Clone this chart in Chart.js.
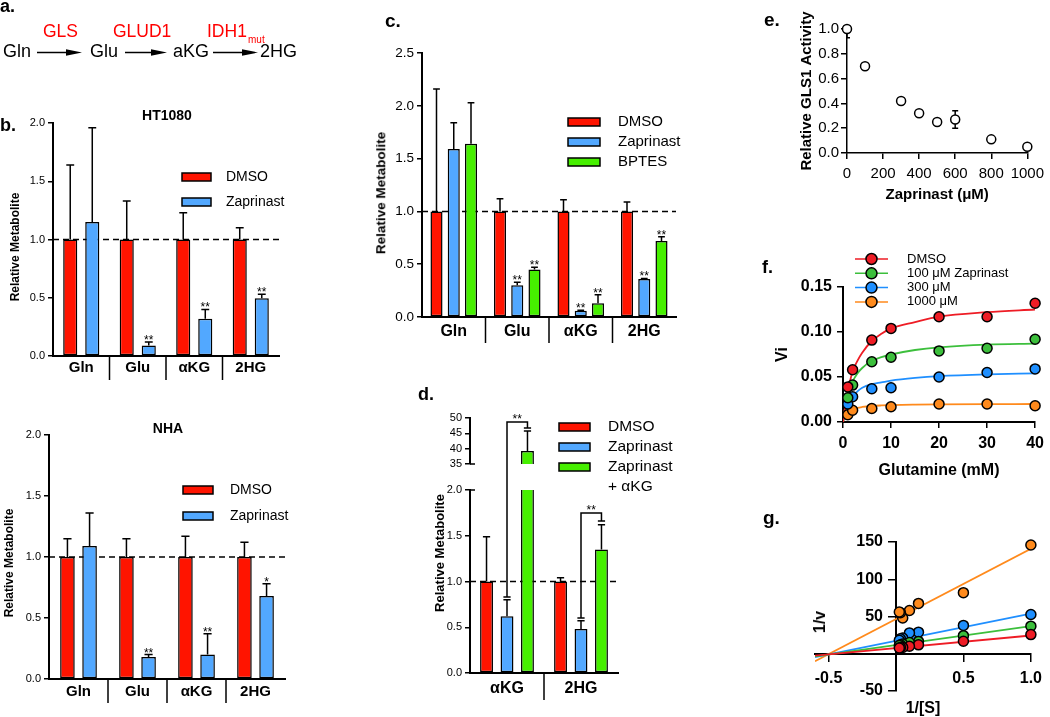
<!DOCTYPE html>
<html>
<head>
<meta charset="utf-8">
<script src="https://cdn.jsdelivr.net/npm/chart.js@4.4.1/dist/chart.umd.min.js"></script>
<style>
  body { margin: 0; background: #fff; }
  #fig { position: relative; width: 1050px; height: 717px; overflow: hidden; font-family: "Liberation Sans", Arial, Helvetica, sans-serif; }
  #fig canvas { position: absolute; left: 0; top: 0; }
  .t { position: absolute; white-space: nowrap; line-height: 1; color: #000; }
</style>
</head>
<body>
<div id="fig">
  <svg width="300" height="70" style="position:absolute;left:0;top:0">
    <g stroke="#000" stroke-width="1.5">
      <line x1="37" y1="52.5" x2="68" y2="52.5"/>
      <line x1="125" y1="52.5" x2="153" y2="52.5"/>
      <line x1="213" y1="52.5" x2="244" y2="52.5"/>
    </g>
    <polygon points="66,49.2 82,52.5 66,55.8"/>
    <polygon points="151,49.2 167,52.5 151,55.8"/>
    <polygon points="242,49.2 258,52.5 242,55.8"/>
  </svg>
</div>
<script>
const FONT = '"Liberation Sans", Arial, Helvetica, sans-serif';

// ---- data ----
const metabolites = ['Gln', 'Glu', 'αKG', '2HG'];

// b. HT1080
const ht1080Dmso = [1, 1, 1, 1];
const ht1080DmsoErr = [1.64, 1.33, 1.23, 1.10];
const ht1080Zap = [1.15, 0.09, 0.32, 0.495];
const ht1080ZapErr = [1.96, 0.12, 0.40, 0.53];
const ht1080ZapStars = ['', '**', '**', '**'];

// b. NHA
const nhaDmso = [1, 1, 1, 1];
const nhaDmsoErr = [1.15, 1.15, 1.17, 1.12];
const nhaZap = [1.09, 0.18, 0.20, 0.68];
const nhaZapErr = [1.36, 0.20, 0.37, 0.78];
const nhaZapStars = ['', '**', '**', '*'];

// c.
const cDmso = [1, 1, 1, 1];
const cDmsoErr = [2.16, 1.12, 1.11, 1.09];
const cZap = [1.59, 0.30, 0.06, 0.36];
const cZapErr = [1.84, 0.33, 0.065, 0.365];
const cBptes = [1.64, 0.45, 0.13, 0.72];
const cBptesErr = [2.03, 0.47, 0.21, 0.76];
const cStars = ['', '**', '**', '**'];

// d. (broken axis)
const dLabels = ['αKG', '2HG'];
const dDmso = [1, 1];
const dDmsoErr = [1.49, 1.04];
const dZap = [0.62, 0.48];
const dZapErr = [0.80, 0.57];
const dZapKg = [39.2, 1.35];
const dZapKgErr = [45.8, 1.62];
const dBracketFrom = [0.83, 0.60];
const dBracketTo = [46.7, 1.66];
const dBracketTop = [48.7, 1.75];
const dBracketStars = ['**', '**'];
const dLowMax = 2;
const dHighMin = 35;
const dHighMax = 50;

// e.
const eDose = [0, 100, 300, 400, 500, 600, 800, 1000];
const eActivity = [1.0, 0.70, 0.42, 0.32, 0.25, 0.27, 0.11, 0.05];
const eSem = [0.07, 0, 0, 0, 0, 0.07, 0, 0];

// f. Michaelis-Menten
const fGln = [1, 2, 6, 10, 20, 30, 40];
const fDmso = [0.039, 0.058, 0.091, 0.104, 0.117, 0.117, 0.132];
const fZap100 = [0.027, 0.041, 0.067, 0.072, 0.079, 0.082, 0.092];
const fZap300 = [0.020, 0.028, 0.037, 0.038, 0.050, 0.055, 0.059];
const fZap1000 = [0.008, 0.013, 0.015, 0.017, 0.020, 0.020, 0.018];
const fCurveX = [0, 0.5, 1, 2, 3, 4, 6, 8, 10, 15, 20, 30, 40];
const fCurveDmso = [0, 0.019, 0.034, 0.056, 0.068, 0.077, 0.090, 0.098, 0.104, 0.111, 0.117, 0.122, 0.125];
const fCurve100 = [0, 0.017, 0.030, 0.045, 0.054, 0.060, 0.068, 0.072, 0.075, 0.080, 0.083, 0.086, 0.087];
const fCurve300 = [0, 0.011, 0.019, 0.028, 0.034, 0.038, 0.042, 0.044, 0.046, 0.049, 0.051, 0.053, 0.054];
const fCurve1000 = [0, 0.0073, 0.0108, 0.0141, 0.0158, 0.0167, 0.0178, 0.0184, 0.0188, 0.0193, 0.0196, 0.0199, 0.020];
const fLegend = ['DMSO', '100 μM Zaprinast', '300 μM', '1000 μM'];

// g. Lineweaver-Burk
const gInvS = [1.0, 0.5, 0.167, 0.1, 0.05, 0.033, 0.025];
const gDmso = [25.7, 16.7, 12, 10, 8.5, 8.5, 7.6];
const gZap100 = [37, 24.3, 16.6, 15, 13, 12, 11];
const gZap300 = [52.7, 38, 29, 28, 21, 20, 18];
const gZap1000 = [146, 82, 67.6, 58, 48, 55, 56];
const gLineX = [-0.6, 1.0];
const gLineDmso = [-2.5, 24.5];
const gLine100 = [-3.5, 37];
const gLine300 = [-4.5, 54];
const gLine1000 = [-10, 141];

// ---- colours ----
const barRed = '#ff1400', barBlue = '#52a8ff', barGreen = '#46ef00';
const kin = ['#ee1c25', '#3cbf3c', '#1f8fff', '#ff8a1c'];

Chart.defaults.font.family = FONT;
Chart.defaults.color = '#000';
Chart.defaults.animation = false;
Chart.defaults.responsive = false;
Chart.defaults.devicePixelRatio = 1;
Chart.defaults.plugins.legend.display = false;
Chart.defaults.plugins.tooltip.enabled = false;

const fig = document.getElementById('fig');

function sheet() {
  const c = document.createElement('canvas');
  c.width = 1050; c.height = 717;
  fig.appendChild(c);
  return c;
}

// layout padding that puts the plot area at l,t,r,b on the page
function frame(l, t, r, b, yW, xH) {
  return { left: l - yW, top: t, right: 1050 - r, bottom: 717 - b - xH };
}

function label(text, x, y, size, o = {}) {
  const d = document.createElement('div');
  d.className = 't';
  d.textContent = text;
  d.style.left = x + 'px';
  d.style.top = y + 'px';
  d.style.fontSize = size + 'px';
  if (o.bold) d.style.fontWeight = 'bold';
  if (o.color) d.style.color = o.color;
  const ax = o.left ? '0' : '-50%';
  d.style.transform = 'translate(' + ax + ',-50%)' + (o.rot ? ' rotate(-90deg)' : '');
  fig.appendChild(d);
}

// ---- plugins ----
const refLine = {
  id: 'refLine',
  beforeDatasetsDraw(chart) {
    const { ctx, chartArea, scales: { y } } = chart;
    if (1 < y.min || 1 > y.max) return;
    const py = y.getPixelForValue(1);
    ctx.save();
    ctx.setLineDash([6, 4]);
    ctx.lineWidth = 1.5;
    ctx.strokeStyle = '#000';
    ctx.beginPath();
    ctx.moveTo(chartArea.left, py);
    ctx.lineTo(chartArea.right, py);
    ctx.stroke();
    ctx.restore();
  }
};

const errorBars = {
  id: 'errorBars',
  afterDatasetsDraw(chart) {
    const { ctx, scales: { y } } = chart;
    ctx.save();
    ctx.strokeStyle = '#000';
    ctx.lineWidth = 1.5;
    ctx.fillStyle = '#000';
    ctx.font = '12px ' + FONT;
    ctx.textAlign = 'center';
    chart.data.datasets.forEach((ds, i) => {
      chart.getDatasetMeta(i).data.forEach((bar, j) => {
        const v = ds.data[j], e = ds.errUp ? ds.errUp[j] : null;
        if (v == null || e == null || v > y.max || e > y.max || e < y.min) return;
        const top = y.getPixelForValue(e), cap = bar.width * 0.28;
        ctx.beginPath();
        ctx.moveTo(bar.x, bar.y);
        ctx.lineTo(bar.x, top);
        ctx.moveTo(bar.x - cap, top);
        ctx.lineTo(bar.x + cap, top);
        ctx.stroke();
        if (ds.stars && ds.stars[j]) ctx.fillText(ds.stars[j], bar.x, top + 2);
      });
    });
    ctx.restore();
  }
};

const dividers = {
  id: 'dividers',
  afterDraw(chart, args, o) {
    const { ctx, chartArea, scales: { x } } = chart;
    if (!x.options.display || !o.length) return;
    ctx.save();
    ctx.strokeStyle = '#000';
    ctx.lineWidth = 1.5;
    for (let i = 1; i < x.ticks.length; i++) {
      const px = (x.getPixelForTick(i - 1) + x.getPixelForTick(i)) / 2;
      ctx.beginPath();
      ctx.moveTo(px, chartArea.bottom);
      ctx.lineTo(px, chartArea.bottom + o.length);
      ctx.stroke();
    }
    ctx.restore();
  }
};

const boxLegend = {
  id: 'boxLegend',
  afterDraw(chart, args, o) {
    if (o.x == null) return;
    const { ctx } = chart;
    ctx.save();
    ctx.font = o.size + 'px ' + FONT;
    ctx.textBaseline = 'middle';
    chart.data.datasets.forEach((ds, i) => {
      const cy = o.y + i * o.dy;
      ctx.fillStyle = ds.backgroundColor;
      ctx.fillRect(o.x, cy - o.h / 2, o.w, o.h);
      ctx.strokeStyle = '#000';
      ctx.lineWidth = 1.5;
      ctx.strokeRect(o.x, cy - o.h / 2, o.w, o.h);
      ctx.fillStyle = '#000';
      ds.label.split('\n').forEach((line, k) => ctx.fillText(line, o.tx, cy + k * (o.lineH || 0)));
    });
    ctx.restore();
  }
};

const semBars = {
  id: 'semBars',
  beforeDatasetsDraw(chart) {
    const { ctx, chartArea: a, scales: { y } } = chart;
    ctx.save();
    ctx.beginPath();
    ctx.rect(a.left, a.top, a.right - a.left, a.bottom - a.top);
    ctx.clip();
    ctx.strokeStyle = '#000';
    ctx.lineWidth = 1.5;
    chart.data.datasets.forEach((ds, i) => {
      if (!ds.sem) return;
      chart.getDatasetMeta(i).data.forEach((pt, j) => {
        const s = ds.sem[j];
        if (!s) return;
        const v = ds.data[j].y;
        const t = y.getPixelForValue(v + s), b = y.getPixelForValue(v - s);
        ctx.beginPath();
        ctx.moveTo(pt.x, t); ctx.lineTo(pt.x, b);
        ctx.moveTo(pt.x - 3, t); ctx.lineTo(pt.x + 3, t);
        ctx.moveTo(pt.x - 3, b); ctx.lineTo(pt.x + 3, b);
        ctx.stroke();
      });
    });
    ctx.restore();
  }
};

const markerLegend = {
  id: 'markerLegend',
  afterDraw(chart, args, o) {
    if (o.x0 == null) return;
    const { ctx } = chart;
    const marks = chart.data.datasets.filter(d => d.label);
    ctx.save();
    ctx.font = o.size + 'px ' + FONT;
    ctx.textBaseline = 'middle';
    ctx.lineWidth = 1.5;
    marks.forEach((ds, i) => {
      const cy = o.y + i * o.dy;
      ctx.strokeStyle = ds.pointBackgroundColor;
      ctx.beginPath();
      ctx.moveTo(o.x0, cy);
      ctx.lineTo(o.x1, cy);
      ctx.stroke();
      ctx.beginPath();
      ctx.arc((o.x0 + o.x1) / 2, cy, o.r, 0, Math.PI * 2);
      ctx.fillStyle = ds.pointBackgroundColor;
      ctx.fill();
      ctx.strokeStyle = '#000';
      ctx.stroke();
      ctx.fillStyle = '#000';
      ctx.fillText(ds.label, o.tx, cy);
    });
    ctx.restore();
  }
};

// y tick labels for an axis that crosses at x = 0 (Chart.js puts them flush on the line)
const crossLabels = {
  id: 'crossLabels',
  afterDraw(chart, args, o) {
    const { ctx, scales: { y } } = chart;
    const ax = chart.scales.x.getPixelForValue(0);
    ctx.save();
    ctx.font = 'bold 16px ' + FONT;
    ctx.fillStyle = '#000';
    ctx.textAlign = 'right';
    ctx.textBaseline = 'middle';
    y.ticks.forEach(t => {
      if (Math.abs(t.value) < 1e-9) return;
      ctx.fillText(String(t.value), ax - o.gap, y.getPixelForValue(t.value));
    });
    ctx.restore();
  }
};

// ---- bar panels ----
function barPanel(o) {
  const showX = o.showX !== false;
  return new Chart(sheet(), {
    type: 'bar',
    data: {
      labels: o.labels,
      datasets: o.series.map(s => ({
        label: s.label,
        data: s.data,
        errUp: s.err,
        stars: s.stars,
        backgroundColor: s.color,
        borderColor: '#000',
        borderWidth: 1.5,
        borderSkipped: false,
        categoryPercentage: o.catPct,
        barPercentage: o.barPct
      }))
    },
    options: {
      layout: { padding: frame(o.l, o.t, o.r, o.b, 40, showX ? 30 : 0) },
      plugins: {
        boxLegend: o.legend || {},
        dividers: { length: o.divLen || 0 }
      },
      scales: {
        x: {
          display: showX,
          grid: { display: false, drawTicks: false },
          border: { color: '#000', width: 2 },
          ticks: { color: '#000', padding: o.catPad, autoSkip: false, maxRotation: 0,
                   font: { size: o.catSize, weight: 'bold' } },
          afterFit: s => { s.height = showX ? 30 : 0; }
        },
        y: {
          min: o.yMin, max: o.yMax,
          grid: { drawOnChartArea: false, tickLength: 5, color: '#000', lineWidth: 1.5 },
          border: { color: '#000', width: 2 },
          ticks: { stepSize: o.step, padding: 3, color: '#000', autoSkip: false, font: { size: o.tickSize },
                   callback: o.fmt || (v => v.toFixed(1)) },
          afterFit: s => { s.width = 40; }
        }
      }
    },
    plugins: [refLine, errorBars, dividers, boxLegend].concat(o.extra || [])
  });
}

// b. HT1080
barPanel({
  l: 53, t: 123, r: 279, b: 356, labels: metabolites, yMin: 0, yMax: 2, step: 0.5,
  tickSize: 11, catSize: 15, catPad: 3, divLen: 24, catPct: 0.78, barPct: 0.64,
  legend: { x: 182, y: 177, dy: 25, w: 29, h: 8, tx: 226, size: 14 },
  series: [
    { label: 'DMSO', data: ht1080Dmso, err: ht1080DmsoErr, color: barRed },
    { label: 'Zaprinast', data: ht1080Zap, err: ht1080ZapErr, stars: ht1080ZapStars, color: barBlue }
  ]
});

// b. NHA
barPanel({
  l: 49, t: 435, r: 285, b: 679, labels: metabolites, yMin: 0, yMax: 2, step: 0.5,
  tickSize: 11, catSize: 15, catPad: 4, divLen: 24, catPct: 0.75, barPct: 0.66,
  legend: { x: 183, y: 490, dy: 26, w: 30, h: 8, tx: 230, size: 14 },
  series: [
    { label: 'DMSO', data: nhaDmso, err: nhaDmsoErr, color: barRed },
    { label: 'Zaprinast', data: nhaZap, err: nhaZapErr, stars: nhaZapStars, color: barBlue }
  ]
});

// c.
barPanel({
  l: 422, t: 53, r: 676, b: 317, labels: metabolites, yMin: 0, yMax: 2.5, step: 0.5,
  tickSize: 13.5, catSize: 16, catPad: 5, divLen: 26, catPct: 0.815, barPct: 0.7,
  legend: { x: 568, y: 122, dy: 20, w: 32, h: 8, tx: 618, size: 15 },
  series: [
    { label: 'DMSO', data: cDmso, err: cDmsoErr, color: barRed },
    { label: 'Zaprinast', data: cZap, err: cZapErr, stars: cStars, color: barBlue },
    { label: 'BPTES', data: cBptes, err: cBptesErr, stars: cStars, color: barGreen }
  ]
});

// d. upper segment of the broken axis
const keepHigh = arr => arr.map(v => (v >= dHighMin ? v : null));
const dHigh = barPanel({
  l: 470, t: 418, r: 618, b: 464, labels: dLabels, yMin: dHighMin, yMax: dHighMax, step: 5,
  tickSize: 11, catSize: 16, catPct: 0.83, barPct: 0.63, showX: false, fmt: v => String(v),
  series: [
    { label: 'DMSO', data: keepHigh(dDmso), err: dDmsoErr, color: barRed },
    { label: 'Zaprinast', data: keepHigh(dZap), err: dZapErr, color: barBlue },
    { label: 'Zaprinast\n+ αKG', data: keepHigh(dZapKg), err: dZapKgErr, color: barGreen }
  ]
});

const dBrackets = {
  id: 'dBrackets',
  afterDraw(chart) {
    const { ctx, chartArea, scales: { y } } = chart;
    const hy = dHigh.scales.y;
    const py = v => (v > y.max ? hy.getPixelForValue(v) : y.getPixelForValue(v));
    const zap = chart.getDatasetMeta(1).data, kg = chart.getDatasetMeta(2).data;
    ctx.save();
    ctx.strokeStyle = '#000';
    ctx.lineWidth = 1.5;
    ctx.fillStyle = '#000';
    ctx.font = '12px ' + FONT;
    ctx.textAlign = 'center';
    dLabels.forEach((lab, j) => {
      const x1 = zap[j].x, x2 = kg[j].x, cap = zap[j].width * 0.28;
      const y1 = py(dBracketFrom[j]), y2 = py(dBracketTo[j]), yt = py(dBracketTop[j]);
      ctx.beginPath();
      ctx.moveTo(x1 - cap, y1); ctx.lineTo(x1 + cap, y1);
      ctx.moveTo(x1, y1); ctx.lineTo(x1, yt); ctx.lineTo(x2, yt); ctx.lineTo(x2, y2);
      ctx.moveTo(x2 - cap, y2); ctx.lineTo(x2 + cap, y2);
      ctx.stroke();
      ctx.fillText(dBracketStars[j], (x1 + x2) / 2, yt + 1);
    });
    // break marks on both axis segments
    ctx.beginPath();
    ctx.moveTo(chartArea.left, chartArea.top); ctx.lineTo(chartArea.left + 5, chartArea.top);
    ctx.moveTo(chartArea.left, hy.bottom); ctx.lineTo(chartArea.left + 5, hy.bottom);
    ctx.stroke();
    ctx.restore();
  }
};

// d. lower segment
barPanel({
  l: 470, t: 490, r: 618, b: 673, labels: dLabels, yMin: 0, yMax: dLowMax, step: 0.5,
  tickSize: 11, catSize: 16, catPad: 6, divLen: 27, catPct: 0.83, barPct: 0.63,
  legend: { x: 559, y: 427, dy: 20, w: 31, h: 8, tx: 608, size: 15.5, lineH: 20 },
  extra: [dBrackets],
  series: [
    { label: 'DMSO', data: dDmso, err: dDmsoErr, color: barRed },
    { label: 'Zaprinast', data: dZap, err: dZapErr, color: barBlue },
    { label: 'Zaprinast\n+ αKG', data: dZapKg, err: dZapKgErr, color: barGreen }
  ]
});

// ---- e. ----
const axisGrid = len => ({ drawOnChartArea: false, tickLength: len, color: '#000', lineWidth: 1.5 });
new Chart(sheet(), {
  type: 'scatter',
  data: {
    datasets: [{
      data: eDose.map((x, i) => ({ x, y: eActivity[i] })),
      sem: eSem,
      pointRadius: 4.5,
      pointBackgroundColor: '#fff',
      pointBorderColor: '#000',
      pointBorderWidth: 1.5,
      clip: false
    }]
  },
  options: {
    layout: { padding: frame(847, 29, 1034, 153, 49, 51) },
    scales: {
      x: {
        min: 0, max: 1000,
        ticks: { stepSize: 200, padding: 6, autoSkip: false, maxRotation: 0, font: { size: 15 },
                 callback: v => String(v) },
        grid: axisGrid(6),
        border: { color: '#000', width: 1.5 },
        title: { display: true, text: 'Zaprinast (μM)', padding: 0, font: { size: 15, weight: 'bold' } },
        afterFit: s => { s.height = 51; }
      },
      y: {
        min: 0, max: 1,
        ticks: { stepSize: 0.2, padding: 2, autoSkip: false, font: { size: 15 }, callback: v => v.toFixed(1) },
        grid: axisGrid(6),
        border: { color: '#000', width: 1.5 },
        title: { display: true, text: 'Relative GLS1 Activity', padding: 0, font: { size: 15, weight: 'bold' } },
        afterFit: s => { s.width = 49; }
      }
    }
  },
  plugins: [semBars]
});

// ---- f. ----
const pts = (xs, ys) => xs.map((x, i) => ({ x, y: ys[i] }));
const fSeries = [fDmso, fZap100, fZap300, fZap1000];
const fCurves = [fCurveDmso, fCurve100, fCurve300, fCurve1000];
new Chart(sheet(), {
  type: 'scatter',
  data: {
    datasets: fSeries.map((ys, i) => ({
      label: fLegend[i],
      data: pts(fGln, ys),
      pointRadius: 5,
      pointBackgroundColor: kin[i],
      pointBorderColor: '#000',
      pointBorderWidth: 1.5,
      order: 0,
      clip: false
    })).concat(fCurves.map((ys, i) => ({
      data: pts(fCurveX, ys),
      showLine: true,
      pointRadius: 0,
      borderColor: kin[i],
      borderWidth: 1.8,
      cubicInterpolationMode: 'monotone',
      order: 1
    })))
  },
  options: {
    layout: { padding: frame(843, 287, 1041, 422, 70, 58) },
    plugins: { markerLegend: { x0: 855, x1: 888, y: 259, dy: 14.3, r: 5.5, tx: 907, size: 13 } },
    scales: {
      x: {
        min: 0, max: 40,
        ticks: { stepSize: 10, padding: 6, autoSkip: false, maxRotation: 0, font: { size: 16, weight: 'bold' } },
        grid: axisGrid(6),
        border: { color: '#000', width: 2 },
        title: { display: true, text: 'Glutamine (mM)', padding: 0, font: { size: 16, weight: 'bold' } },
        afterFit: s => { s.height = 58; }
      },
      y: {
        min: 0, max: 0.15,
        ticks: { stepSize: 0.05, padding: 5, autoSkip: false, font: { size: 16, weight: 'bold' }, callback: v => v.toFixed(2) },
        grid: axisGrid(6),
        border: { color: '#000', width: 2 },
        title: { display: true, text: 'Vi', padding: 0, font: { size: 16, weight: 'bold' } },
        afterFit: s => { s.width = 70; }
      }
    }
  },
  plugins: [markerLegend]
});

// ---- g. ----
const gSeries = [gDmso, gZap100, gZap300, gZap1000];
const gLines = [gLineDmso, gLine100, gLine300, gLine1000];
new Chart(sheet(), {
  type: 'scatter',
  data: {
    datasets: gSeries.map((ys, i) => ({
      data: pts(gInvS, ys),
      pointRadius: 5,
      pointBackgroundColor: kin[i],
      pointBorderColor: '#000',
      pointBorderWidth: 1.5,
      order: 0,
      clip: false
    })).concat(gLines.map((ys, i) => ({
      data: pts(gLineX, ys),
      showLine: true,
      pointRadius: 0,
      borderColor: kin[i],
      borderWidth: 1.8,
      order: 1
    })))
  },
  options: {
    layout: { padding: { left: 815, top: 542, right: 18, bottom: 26 } },
    plugins: { crossLabels: { gap: 13 } },
    scales: {
      x: {
        type: 'linear', min: -0.6, max: 1.0, position: { y: 0 },
        ticks: { stepSize: 0.5, includeBounds: false, padding: 8, autoSkip: false, maxRotation: 0,
                 font: { size: 16, weight: 'bold' },
                 callback: v => (Math.abs(v) < 1e-9 ? '' : v.toFixed(1)) },
        grid: axisGrid(7),
        border: { color: '#000', width: 2 }
      },
      y: {
        min: -50, max: 150, position: { x: 0 },
        ticks: { stepSize: 50, autoSkip: false, color: 'rgba(0,0,0,0)', font: { size: 16, weight: 'bold' } },
        grid: axisGrid(7),
        border: { color: '#000', width: 2 }
      }
    }
  },
  plugins: [crossLabels]
});

// ---- text ----
label('a.', 0, 5.7, 18, { bold: true, left: true });
label('GLS', 43, 31.5, 17.5, { left: true, color: '#ff0000' });
label('GLUD1', 113, 31.5, 17.5, { left: true, color: '#ff0000' });
label('IDH1', 207, 31.5, 17.5, { left: true, color: '#ff0000' });
label('mut', 248, 40, 10, { left: true, color: '#ff0000' });
label('Gln', 3, 50.5, 18, { left: true });
label('Glu', 90, 50.5, 18, { left: true });
label('aKG', 173, 50.5, 18, { left: true });
label('2HG', 260, 50.5, 18, { left: true });

label('b.', 0, 124.7, 18, { bold: true, left: true });
label('c.', 385, 20.3, 19, { bold: true, left: true });
label('d.', 418, 393.7, 18, { bold: true, left: true });
label('e.', 764, 19.4, 19, { bold: true, left: true });
label('f.', 762, 266.7, 18, { bold: true, left: true });
label('g.', 763, 517.4, 19, { bold: true, left: true });

label('HT1080', 167, 115, 14, { bold: true });
label('NHA', 168, 428, 14, { bold: true });
label('Relative Metabolite', 15, 247, 12, { bold: true, rot: true });
label('Relative Metabolite', 9, 563, 12, { bold: true, rot: true });
label('Relative Metabolite', 381, 193, 13.5, { bold: true, rot: true });
label('Relative Metabolite', 439, 553, 13, { bold: true, rot: true });
label('1/v', 820, 622, 16, { bold: true, rot: true });
label('1/[S]', 923, 708, 16, { bold: true });
</script>
</body>
</html>
